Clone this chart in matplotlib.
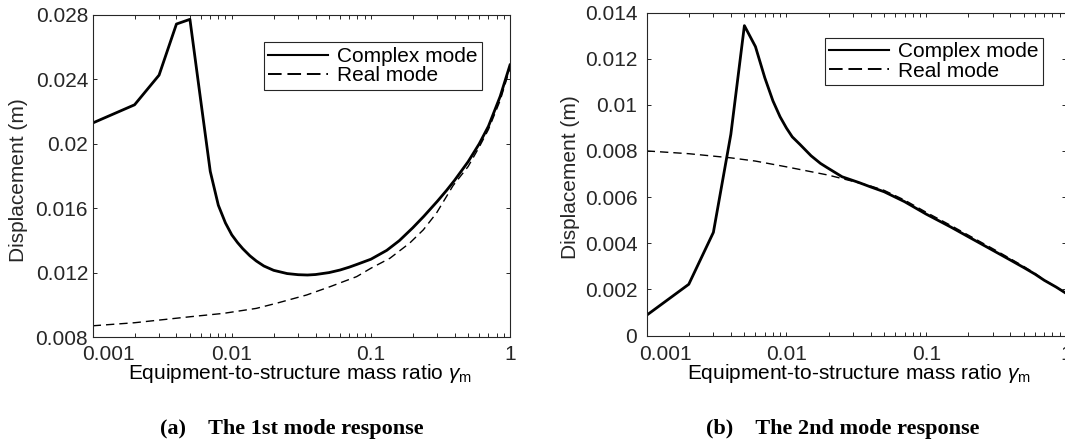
import numpy as np
import matplotlib.pyplot as plt
from matplotlib.lines import Line2D
from matplotlib.ticker import FixedLocator, NullFormatter
import matplotlib.transforms as mtransforms

plt.rcParams["font.family"] = ["Liberation Sans", "DejaVu Sans"]
plt.rcParams["mathtext.fontset"] = "custom"
plt.rcParams["mathtext.rm"] = "Liberation Sans"
plt.rcParams["mathtext.it"] = "Liberation Sans:italic"

# (a) 1st mode response
ratio_c1 = [0.001, 0.002, 0.003, 0.004, 0.005, 0.006, 0.007, 0.008, 0.009, 0.01,
            0.011, 0.012, 0.0135, 0.015, 0.017, 0.02, 0.025, 0.03, 0.035, 0.04,
            0.05, 0.06, 0.07, 0.08, 0.1, 0.13, 0.16, 0.2, 0.24, 0.3,
            0.35, 0.4, 0.5, 0.6, 0.7, 0.85, 1.0]
disp_c1 = [0.0213, 0.02243, 0.02427, 0.02744, 0.02773, 0.0226, 0.0183, 0.0162, 0.0151, 0.01436,
           0.01388, 0.0135, 0.01306, 0.01274, 0.01243, 0.01216, 0.01196, 0.01189, 0.01187, 0.0119,
           0.01202, 0.01218, 0.01236, 0.01254, 0.01285, 0.0134, 0.0140, 0.0148, 0.01551, 0.01644,
           0.01712, 0.01775, 0.0189, 0.0200, 0.0211, 0.02295, 0.0249]
ratio_r1 = [0.001, 0.002, 0.005, 0.0087, 0.015, 0.021, 0.0345, 0.051, 0.079, 0.1,
            0.137, 0.19, 0.238, 0.296, 0.39, 0.5, 0.6, 0.7, 0.85, 1.0]
disp_r1 = [0.00872, 0.00891, 0.00928, 0.00949, 0.0098, 0.01012, 0.01063, 0.01115, 0.01177, 0.01229,
           0.01291, 0.01385, 0.01467, 0.01571, 0.01742, 0.0186, 0.0198, 0.0209, 0.0227, 0.0247]

# (b) 2nd mode response
ratio_c2 = [0.001, 0.002, 0.003, 0.004, 0.005, 0.006, 0.007, 0.008, 0.009, 0.01,
            0.011, 0.0125, 0.015, 0.0175, 0.0195, 0.025, 0.033, 0.04, 0.05, 0.07,
            0.1, 0.15, 0.2, 0.3, 0.4, 0.5, 0.6, 0.7, 0.85, 1.0]
disp_c2 = [0.00088, 0.00222, 0.00447, 0.00872, 0.01343, 0.01252, 0.01117, 0.01017, 0.00948, 0.00899,
           0.00861, 0.00828, 0.00779, 0.00746, 0.00728, 0.00688, 0.00663, 0.00644, 0.00623, 0.0058,
           0.00526, 0.0047, 0.00428, 0.00369, 0.00327, 0.00294, 0.00266, 0.00239, 0.0021, 0.00183]
ratio_r2 = [0.001, 0.002, 0.004, 0.006, 0.01, 0.02, 0.03, 0.04, 0.05, 0.07,
            0.1, 0.15, 0.2, 0.3, 0.4, 0.5, 0.6, 0.7, 0.85, 1.0]
disp_r2 = [0.0080, 0.00788, 0.0077, 0.00756, 0.00731, 0.00695, 0.00668, 0.00648, 0.00629, 0.00587,
           0.00534, 0.00477, 0.00435, 0.00376, 0.00333, 0.00299, 0.00269, 0.0024, 0.0021, 0.00183]

x_ticks = [0.001, 0.01, 0.1, 1]
x_ticklabels = ["0.001", "0.01", "0.1", "1"]
y_ticks_a = [0.008, 0.012, 0.016, 0.02, 0.024, 0.028]
y_ticklabels_a = ["0.008", "0.012", "0.016", "0.02", "0.024", "0.028"]
y_ticks_b = [0, 0.002, 0.004, 0.006, 0.008, 0.01, 0.012, 0.014]
y_ticklabels_b = ["0", "0.002", "0.004", "0.006", "0.008", "0.01", "0.012", "0.014"]
legend_labels = ["Complex mode", "Real mode"]
captions = ["(a)    The 1st mode response", "(b)    The 2nd mode response"]

AX_COLOR = "#262626"
W, H = 1065, 443


def px_rect(x0, y0, x1, y1):
    return [x0 / W, 1 - y1 / H, (x1 - x0) / W, (y1 - y0) / H]


def style_axes(ax, yticks, yticklabels, ylim, xpad, ypad, first_shift):
    ax.set_xscale("log")
    ax.set_xlim(0.001, 1)
    ax.set_ylim(*ylim)
    ax.set_xticks(x_ticks)
    ax.set_xticklabels(x_ticklabels)
    minors = [m * 10.0 ** e for e in (-3, -2, -1) for m in range(2, 10)]
    ax.xaxis.set_minor_locator(FixedLocator(minors))
    ax.xaxis.set_minor_formatter(NullFormatter())
    ax.set_yticks(yticks)
    ax.set_yticklabels(yticklabels)
    ax.tick_params(which="both", direction="in", length=3.2, width=0.7,
                   top=True, right=True, color=AX_COLOR, labelcolor=AX_COLOR,
                   labelsize=15)
    ax.tick_params(axis="x", which="major", pad=xpad)
    ax.tick_params(axis="y", which="major", pad=ypad)
    for sp in ax.spines.values():
        sp.set_color(AX_COLOR)
        sp.set_linewidth(0.8)
    # first x label is nudged to the right in the original
    lab = ax.get_xticklabels()[0]
    off = mtransforms.ScaledTranslation(first_shift / 100, 0, ax.figure.dpi_scale_trans)
    lab.set_transform(lab.get_transform() + off)


def add_legend(ax, anchor):
    handles = [Line2D([], [], color="k", lw=1.5),
               Line2D([], [], color="k", lw=1.4, dashes=(7, 3))]
    leg = ax.legend(handles, legend_labels, loc="upper right",
                    bbox_to_anchor=anchor, bbox_transform=ax.figure.transFigure,
                    fontsize=15, frameon=True, fancybox=False, framealpha=1,
                    edgecolor=AX_COLOR, borderpad=0.22, labelspacing=0.02,
                    handlelength=2.85, handletextpad=0.45, borderaxespad=0)
    leg.get_frame().set_linewidth(0.8)
    for t in leg.get_texts():
        t.set_color("k")


fig = plt.figure(figsize=(W / 100, H / 100), dpi=100)
ax1 = fig.add_axes(px_rect(92.7, 15, 510, 337.4))
ax2 = fig.add_axes(px_rect(646.7, 12.5, 1066, 335.5))

ax1.plot(ratio_c1, disp_c1, color="k", lw=2.0, solid_joinstyle="round")
ax1.plot(ratio_r1, disp_r1, color="k", lw=1.0, dashes=(6, 3.6))
ax2.plot(ratio_c2, disp_c2, color="k", lw=2.0, solid_joinstyle="round")
ax2.plot(ratio_r2, disp_r2, color="k", lw=1.0, dashes=(6, 3.6))

style_axes(ax1, y_ticks_a, y_ticklabels_a, (0.008, 0.028), 5.5, 3.3, 15.5)
style_axes(ax2, y_ticks_b, y_ticklabels_b, (0, 0.014), 6.8, 6.8, 19)

add_legend(ax1, (482 / W, 1 - 42.3 / H))
add_legend(ax2, (1043 / W, 1 - 37.7 / H))

xlabel = r"Equipment-to-structure mass ratio $\gamma_\mathrm{m}$"
fig.text(300 / W, 1 - 379 / H, xlabel, ha="center", va="baseline",
         fontsize=15, color="k")
fig.text(858.7 / W, 1 - 379 / H, xlabel, ha="center", va="baseline",
         fontsize=15, color="k")
fig.text(18.2 / W, 1 - 180 / H, "Displacement (m)", rotation=90,
         ha="center", va="center", fontsize=15, color=AX_COLOR)
fig.text(570.2 / W, 1 - 177.5 / H, "Displacement (m)", rotation=90,
         ha="center", va="center", fontsize=15, color=AX_COLOR)

fig.text(291.5 / W, 1 - 434 / H, captions[0], ha="center", va="baseline",
         fontsize=16, fontweight="bold", family=["Liberation Serif", "DejaVu Serif"])
fig.text(843 / W, 1 - 434 / H, captions[1], ha="center", va="baseline",
         fontsize=16, fontweight="bold", family=["Liberation Serif", "DejaVu Serif"])

fig.savefig("out.png", dpi=100)
